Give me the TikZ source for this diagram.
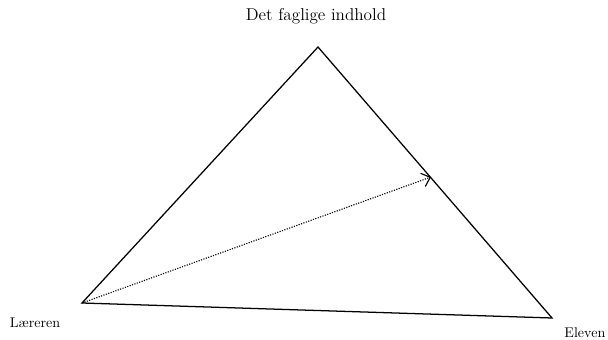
\documentclass[tikz,border=0pt]{standalone}
\usepackage{tikz}
\usetikzlibrary{arrows.meta, positioning}

\begin{document}
\begin{tikzpicture}[x=0.025cm, y=-0.025cm]
    \useasboundingbox (0,0) rectangle (608,340);
    \coordinate (topcorner) at (318,47);
    \coordinate (teacher) at (82,303);
    \coordinate (pupil) at (552,318);
    \coordinate (arrowtip) at (431,177);

    \node[font=\fontsize{12.2}{14}\selectfont] (content) at (316,16) {Det faglige indhold};
    \node[font=\fontsize{10}{12}\selectfont] (teacherlabel) at (35,323) {Læreren};
    \node[font=\fontsize{10}{12}\selectfont, anchor=south east, inner sep=1pt] (pupillabel) at (607,339) {Eleven};

    \draw[line width=0.9pt] (topcorner) -- (pupil) -- (teacher) -- cycle;
    \draw[-{Straight Barb[length=5.5pt, width=10pt]}, densely dotted, line width=0.8pt] (teacher) -- (arrowtip);
  \end{tikzpicture}
\end{document}
